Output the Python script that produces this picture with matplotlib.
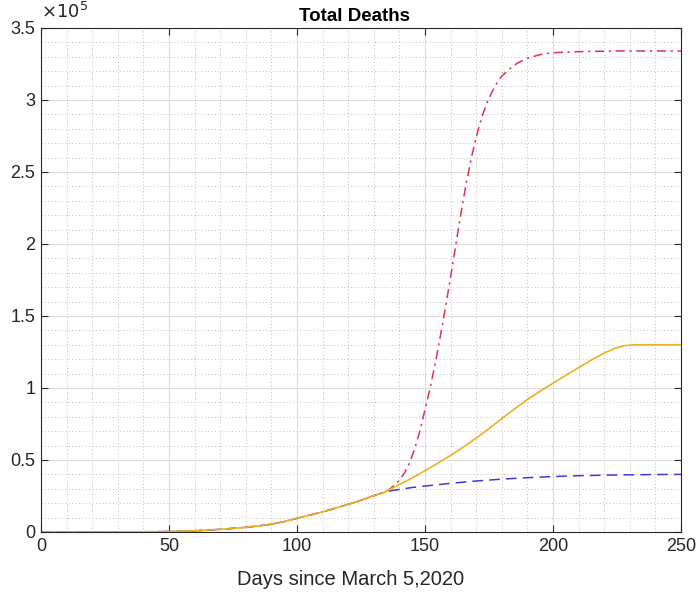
import matplotlib
matplotlib.use("Agg")
import matplotlib.pyplot as plt
from matplotlib.ticker import MultipleLocator, FuncFormatter

plt.rcParams['font.family'] = ['Liberation Sans', 'DejaVu Sans']

# shared early part (all scenarios identical up to the branch point)
days_common = [0, 10, 20, 30, 40, 45, 50, 55, 60, 65, 70, 75, 80, 85, 90, 95,
               100, 105, 110, 115, 120, 125, 130, 134]
deaths_common = [0, 5, 20, 50, 120, 200, 320, 520, 850, 1300, 1850, 2500,
                 3250, 4200, 5400, 7200, 9500, 11700, 14000, 16500, 19200,
                 22000, 25200, 27500]

# scenario A (red dash-dot)
days_red = [134, 136, 138, 140, 142, 144, 146, 148, 150, 152, 154, 156, 158,
            160, 162, 164, 166, 168, 170, 172, 174, 176, 178, 180, 183, 186,
            190, 195, 200, 210, 225, 250]
deaths_red = [27500, 29500, 32500, 36000, 41000, 48000, 58000, 70000, 85000,
              100000, 117000, 136000, 156000, 177000, 199000, 221000, 241000,
              259000, 274000, 287000, 297000, 305000, 311500, 316500, 321500,
              325500, 329000, 331500, 332800, 333600, 334000, 334000]

# scenario B (orange solid)
days_orange = [134, 140, 145, 150, 155, 160, 165, 170, 175, 180, 185, 190,
               195, 200, 205, 210, 215, 220, 224, 228, 232, 250]
deaths_orange = [27500, 33000, 37500, 42600, 47700, 53200, 59000, 65200,
                 71800, 78700, 85500, 92000, 97800, 103300, 108800, 114200,
                 119400, 124200, 127500, 129400, 130000, 130000]

# scenario C (blue dashed)
days_blue = [134, 137, 140, 145, 150, 160, 170, 180, 190, 200, 210, 225, 240,
             250]
deaths_blue = [27500, 28700, 29600, 30900, 31900, 33800, 35400, 36700, 37700,
               38500, 39100, 39600, 39900, 40000]

fig = plt.figure(figsize=(6.99, 5.94), dpi=100)
ax = fig.add_axes([0.0587, 0.1044, 0.9155, 0.8485])

ax.plot(days_common + days_red[1:], deaths_common + deaths_red[1:],
        color='#E0324E', lw=1.1, dashes=[6, 3, 1.5, 3])
ax.plot(days_common + days_blue[1:], deaths_common + deaths_blue[1:],
        color='#3A3AE0', lw=1.1, dashes=[7, 4])
ax.plot(days_common + days_orange[1:], deaths_common + deaths_orange[1:],
        color='#EDB120', lw=1.2)

ax.set_xlim(0, 250)
ax.set_ylim(0, 3.5e5)
ax.xaxis.set_major_locator(MultipleLocator(50))
ax.xaxis.set_minor_locator(MultipleLocator(10))
ax.yaxis.set_major_locator(MultipleLocator(0.5e5))
ax.yaxis.set_minor_locator(MultipleLocator(0.1e5))
ax.yaxis.set_major_formatter(FuncFormatter(lambda v, p: '%g' % (v / 1e5)))

ax.grid(which='major', color='#DCDCDC', lw=0.8)
ax.grid(which='minor', color='#BDBDBD', lw=0.7, linestyle=(0, (1, 2.5)))
ax.set_axisbelow(True)

ax.tick_params(which='major', direction='in', length=5, width=0.8,
               top=True, right=True, labelsize=13, colors='#262626', pad=4)
ax.tick_params(which='minor', length=0)
for s in ax.spines.values():
    s.set_color('#262626')
    s.set_linewidth(0.8)

ax.set_title('Total Deaths', fontsize=13.5, fontweight='bold', pad=5, x=0.49)
ax.set_xlabel('Days since March 5,2020', fontsize=14.5, color='#262626')
ax.xaxis.set_label_coords(0.483, -0.075)
ax.text(0.0, 1.012, r'$\times10^{5}$', transform=ax.transAxes, fontsize=13,
        color='#262626', ha='left', va='bottom')

fig.savefig('out.png', dpi=100)
